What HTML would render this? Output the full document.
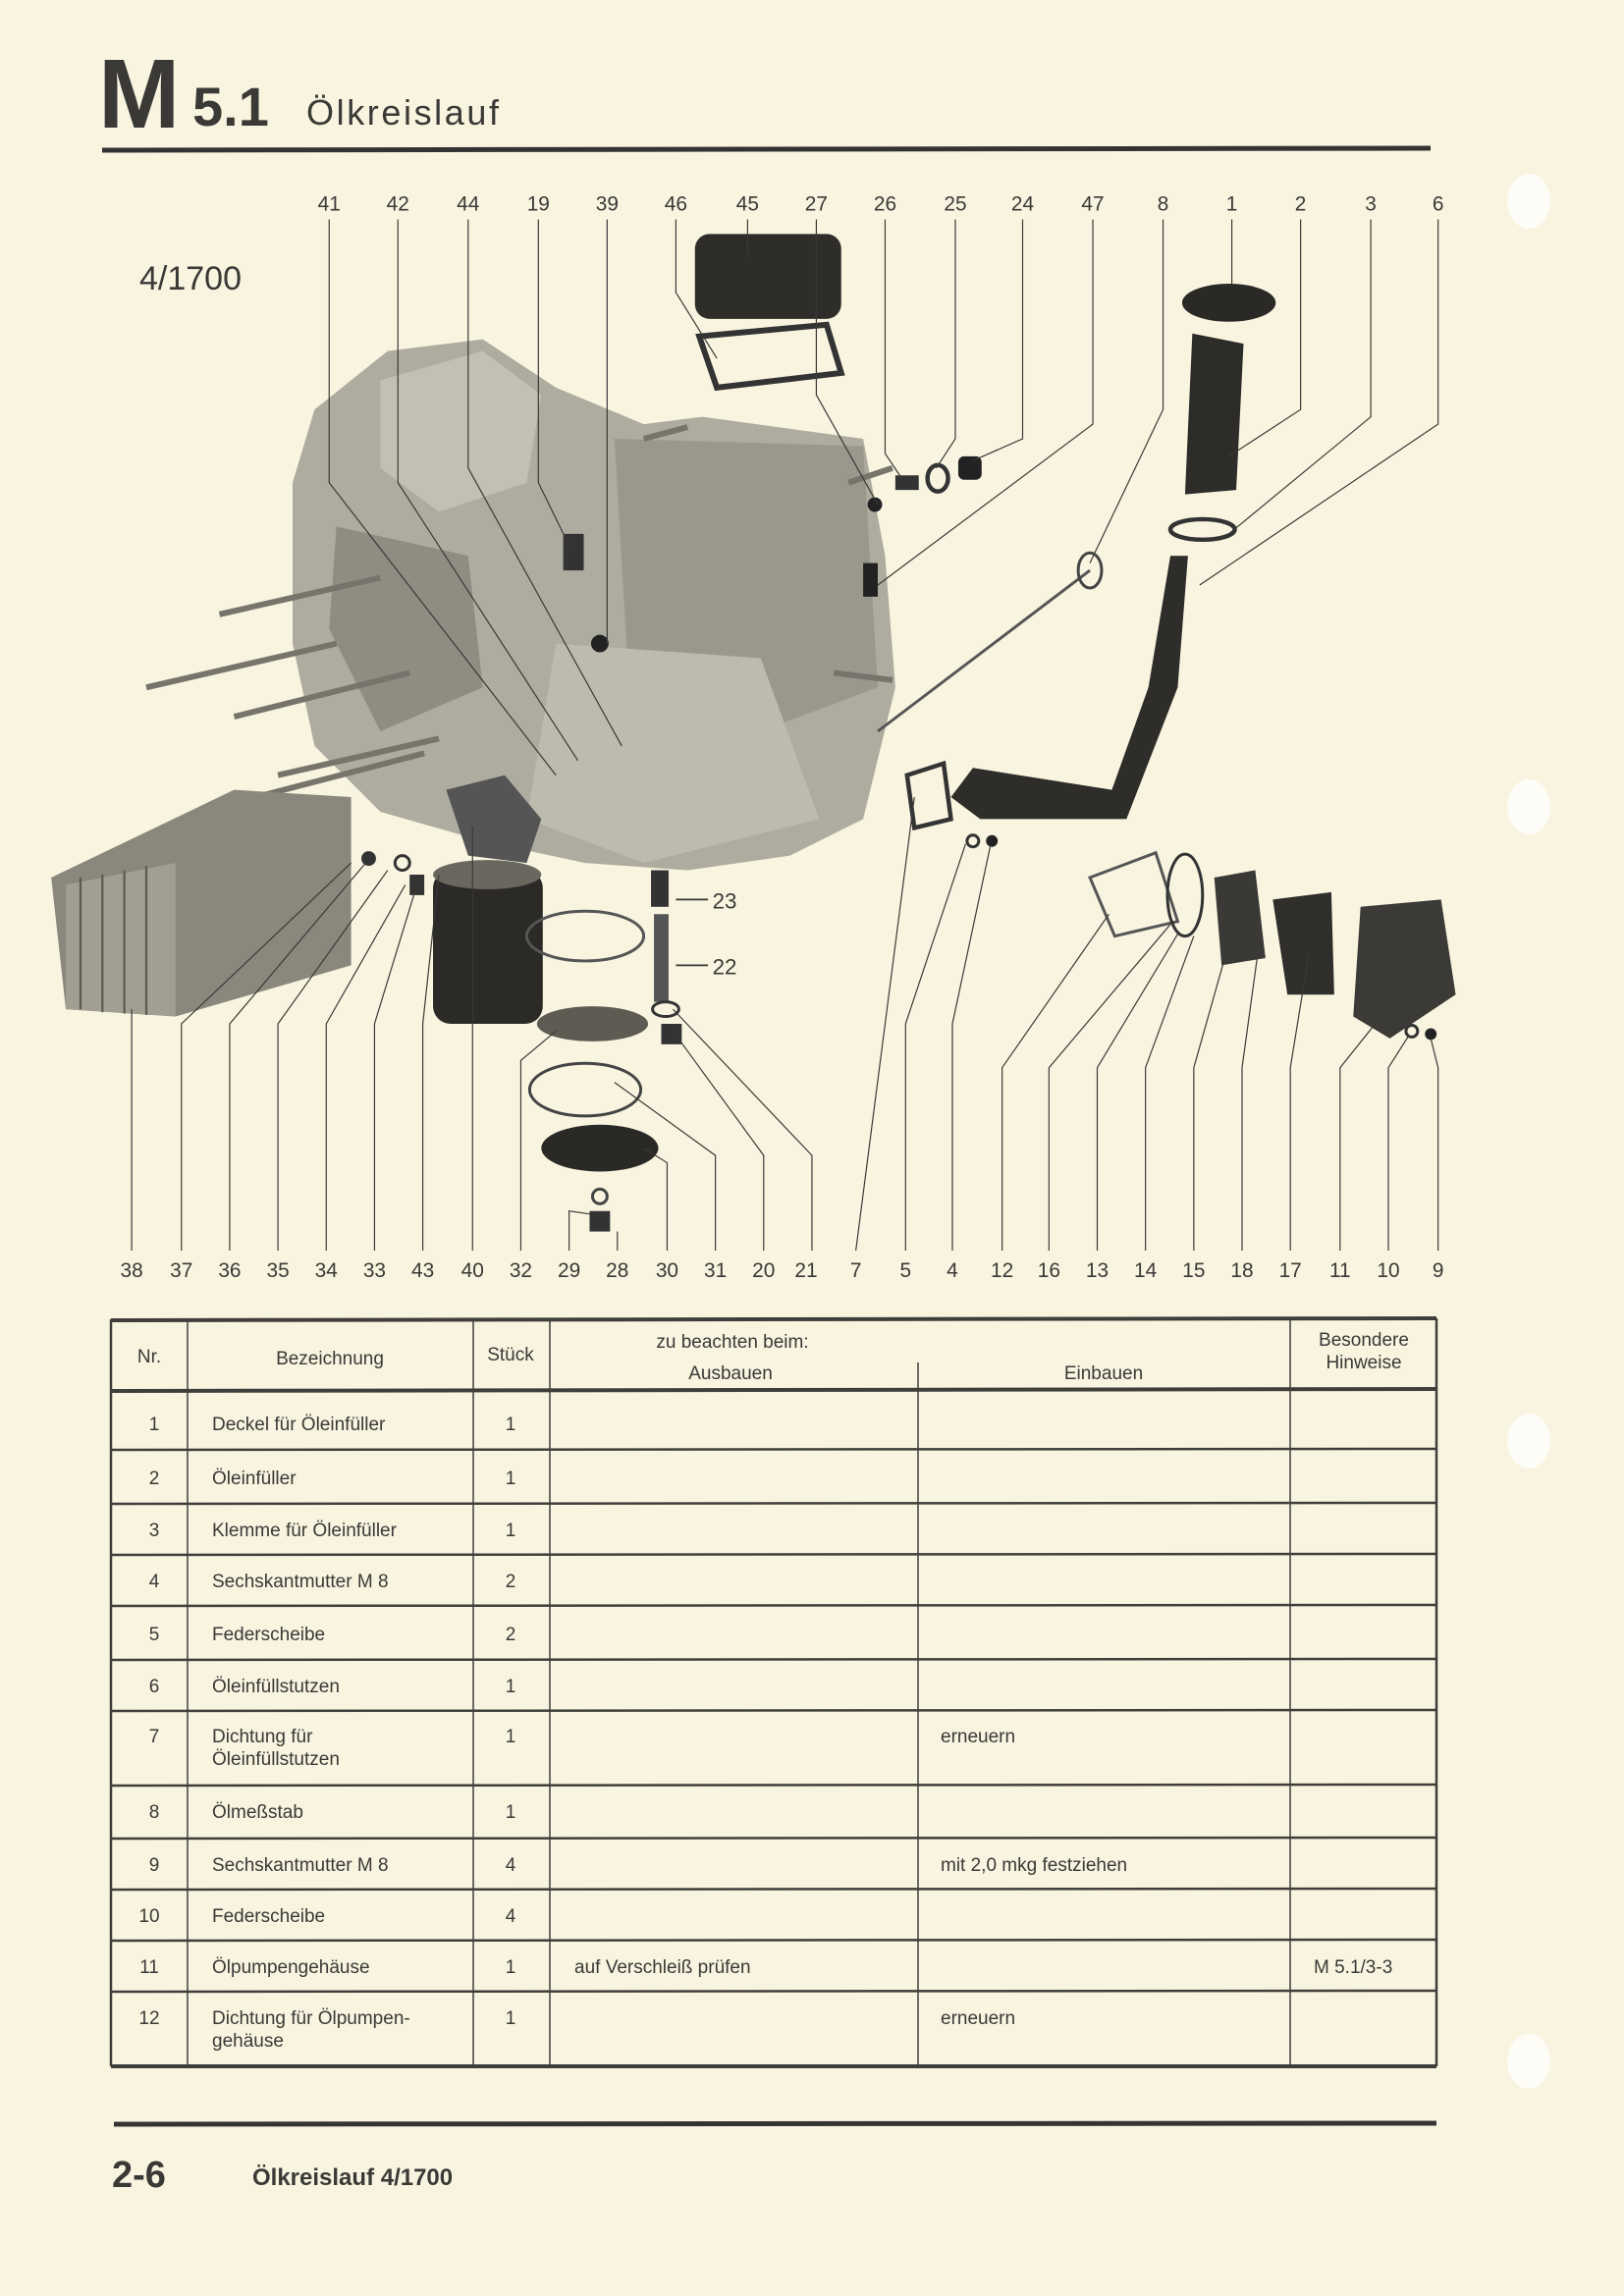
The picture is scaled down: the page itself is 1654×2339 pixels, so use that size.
<!DOCTYPE html>
<html><head><meta charset="utf-8"><style>
html,body{margin:0;padding:0;background:#f8f4e0;}
svg{display:block}
text{font-family:"Liberation Sans",sans-serif;fill:#3a3936}
</style></head><body>
<svg width="1654" height="2339" viewBox="0 0 1654 2339" xmlns="http://www.w3.org/2000/svg">
<rect width="1654" height="2339" fill="#f8f4e0"/>
<!-- binder holes -->
<g fill="#fdfcf6"><ellipse cx="1557" cy="205" rx="22" ry="28"/><ellipse cx="1557" cy="822" rx="22" ry="28"/><ellipse cx="1557" cy="1468" rx="22" ry="28"/><ellipse cx="1557" cy="2100" rx="22" ry="28"/></g>
<!-- header -->
<text x="100" y="130" font-size="100" font-weight="bold" fill="#333">M</text>
<text x="196" y="128" font-size="56" font-weight="bold" fill="#3a3a3a">5.1</text>
<text x="312" y="127" font-size="36" fill="#3a3a3a" textLength="196">Ölkreislauf</text>
<line x1="104" y1="153" x2="1457" y2="151" stroke="#333" stroke-width="5"/>
<text x="142" y="295" font-size="34" fill="#3a3a3a">4/1700</text>

<g transform="scale(1.49)">
<!-- engine block -->
<path d="M200,330 L215,280 L265,240 L330,232 L380,265 L440,290 L480,285 L590,300 L605,380 L612,470 L590,560 L540,585 L470,595 L400,590 L330,575 L260,555 L215,510 L200,440 Z" fill="#aeab9f"/>
<path d="M260,260 L330,240 L370,270 L360,330 L300,350 L260,320Z" fill="#c3c0b3"/>
<path d="M420,300 L590,305 L600,470 L520,500 L430,470Z" fill="#9a978c"/>
<path d="M230,360 L320,380 L330,470 L260,500 L225,430Z" fill="#8f8c82"/>
<path d="M380,440 L520,450 L560,560 L440,590 L360,560Z" fill="#bdbaae"/>
<g stroke="#77746c" stroke-width="4">
<line x1="150" y1="420" x2="260" y2="395"/><line x1="160" y1="490" x2="280" y2="460"/><line x1="100" y1="470" x2="230" y2="440"/><line x1="190" y1="530" x2="300" y2="505"/><line x1="175" y1="545" x2="290" y2="515"/><line x1="440" y1="300" x2="470" y2="292"/><line x1="580" y1="330" x2="610" y2="320"/><line x1="570" y1="460" x2="610" y2="465"/>
</g>
<!-- valve cover 45 & gasket 46 -->
<rect x="475" y="160" width="100" height="58" rx="10" fill="#2e2d2a"/>
<path d="M478,230 L565,222 L575,255 L490,265Z" fill="none" stroke="#333" stroke-width="4"/>
<!-- small parts -->
<circle cx="598" cy="345" r="5" fill="#222"/><rect x="612" y="325" width="16" height="10" fill="#333"/>
<ellipse cx="641" cy="327" rx="7" ry="9" fill="none" stroke="#333" stroke-width="3"/>
<rect x="655" y="312" width="16" height="16" rx="4" fill="#222"/>
<path d="M590,385 L600,385 L600,408 L590,408Z" fill="#222"/>
<circle cx="410" cy="440" r="6" fill="#222"/>
<rect x="385" y="365" width="14" height="25" fill="#333"/>
<!-- cap 1, filler 2, clamp 3, pipe 6 -->
<ellipse cx="840" cy="207" rx="32" ry="13" fill="#2a2926"/>
<path d="M815,228 L850,235 L845,335 L810,338 Z" fill="#2d2c29"/>
<ellipse cx="822" cy="362" rx="22" ry="7" fill="none" stroke="#333" stroke-width="3"/>
<path d="M812,380 L805,470 L770,560 L670,560 L650,545 L665,525 L760,540 L785,470 L800,380Z" fill="#2e2d29"/>
<path d="M620,530 L645,522 L650,560 L625,566Z" fill="none" stroke="#333" stroke-width="3"/>
<line x1="600" y1="500" x2="745" y2="390" stroke="#555" stroke-width="2"/>
<ellipse cx="745" cy="390" rx="8" ry="12" fill="none" stroke="#444" stroke-width="2"/>
<circle cx="665" cy="575" r="4" fill="none" stroke="#333" stroke-width="2"/><circle cx="678" cy="575" r="4" fill="#222"/>
<!-- oil cooler 38 -->
<path d="M35,600 L160,540 L240,545 L240,660 L120,695 L45,690Z" fill="#8a877c"/>
<path d="M45,605 L120,590 L120,695 L45,690Z" fill="#a19e92"/>
<g stroke="#5d5a52" stroke-width="1.5"><line x1="55" y1="600" x2="55" y2="690"/><line x1="70" y1="598" x2="70" y2="692"/><line x1="85" y1="595" x2="85" y2="693"/><line x1="100" y1="592" x2="100" y2="694"/></g>
<circle cx="252" cy="587" r="5" fill="#333"/><circle cx="275" cy="590" r="5" fill="none" stroke="#333" stroke-width="2"/>
<rect x="280" y="598" width="10" height="14" fill="#333"/>
<!-- filter 32, 40 -->
<path d="M305,540 L345,530 L370,560 L360,590 L320,585Z" fill="#555"/>
<rect x="296" y="595" width="75" height="105" rx="12" fill="#2b2a27"/>
<ellipse cx="333" cy="598" rx="37" ry="10" fill="#6a675f"/>
<ellipse cx="400" cy="640" rx="40" ry="17" fill="none" stroke="#555" stroke-width="2"/>
<ellipse cx="405" cy="700" rx="38" ry="12" fill="#5e5b53"/>
<ellipse cx="400" cy="745" rx="38" ry="18" fill="none" stroke="#444" stroke-width="2"/>
<ellipse cx="410" cy="785" rx="40" ry="16" fill="#2a2926"/>
<circle cx="410" cy="818" r="5" fill="none" stroke="#444" stroke-width="2"/><rect x="403" y="828" width="14" height="14" fill="#333"/>
<rect x="445" y="595" width="12" height="25" fill="#333"/>
<rect x="447" y="625" width="10" height="60" fill="#555"/>
<ellipse cx="455" cy="690" rx="9" ry="5" fill="none" stroke="#333" stroke-width="2"/>
<rect x="452" y="700" width="14" height="14" fill="#333"/>
<line x1="462" y1="615" x2="484" y2="615" stroke="#333" stroke-width="1.2"/><text x="487" y="621" font-size="15">23</text>
<line x1="462" y1="660" x2="484" y2="660" stroke="#333" stroke-width="1.2"/><text x="487" y="666" font-size="15">22</text>
<!-- pump parts -->
<path d="M745,600 L790,583 L805,630 L762,640Z" fill="none" stroke="#555" stroke-width="2"/>
<ellipse cx="810" cy="612" rx="12" ry="28" fill="none" stroke="#333" stroke-width="2"/>
<path d="M830,600 L858,595 L865,655 L835,660Z" fill="#3a3935"/>
<path d="M870,615 L910,610 L912,680 L880,680Z" fill="#2f2e2a"/>
<path d="M930,620 L985,615 L995,680 L950,710 L925,695Z" fill="#3b3a36"/>
<circle cx="965" cy="705" r="4" fill="none" stroke="#333" stroke-width="2"/><circle cx="978" cy="707" r="4" fill="#222"/>

<!-- top leaders -->
<g stroke="#3a3936" stroke-width="0.8" fill="none">
<polyline points="225,150 225,330 380,530"/>
<polyline points="272,150 272,330 395,520"/>
<polyline points="320,150 320,320 425,510"/>
<polyline points="368,150 368,330 390,375"/>
<polyline points="415,150 415,440"/>
<polyline points="462,150 462,200 490,245"/>
<polyline points="511,150 511,175"/>
<polyline points="558,150 558,270 600,345"/>
<polyline points="605,150 605,310 615,325"/>
<polyline points="653,150 653,300 640,320"/>
<polyline points="699,150 699,300 665,315"/>
<polyline points="747,150 747,290 600,400"/>
<polyline points="795,150 795,280 745,385"/>
<polyline points="842,150 842,195"/>
<polyline points="889,150 889,280 840,312"/>
<polyline points="937,150 937,285 840,365"/>
<polyline points="983,150 983,290 820,400"/>
<!-- bottom leaders -->
<polyline points="90,855 90,690"/>
<polyline points="124,855 124,700 240,590"/>
<polyline points="157,855 157,700 250,590"/>
<polyline points="190,855 190,700 265,595"/>
<polyline points="223,855 223,700 277,605"/>
<polyline points="256,855 256,700 285,605"/>
<polyline points="289,855 289,700 300,598"/>
<polyline points="323,855 323,565"/>
<polyline points="356,855 356,725 380,705"/>
<polyline points="389,855 389,828 403,830"/>
<polyline points="422,855 422,842"/>
<polyline points="456,855 456,795 440,785"/>
<polyline points="489,855 489,790 420,740"/>
<polyline points="522,855 522,790 460,705"/>
<polyline points="555,855 555,790 460,690"/>
<polyline points="585,855 625,545"/>
<polyline points="619,855 619,700 660,577"/>
<polyline points="651,855 651,700 677,578"/>
<polyline points="685,855 685,730 758,625"/>
<polyline points="717,855 717,730 800,632"/>
<polyline points="750,855 750,730 806,637"/>
<polyline points="783,855 783,730 816,640"/>
<polyline points="816,855 816,730 840,645"/>
<polyline points="849,855 849,730 860,650"/>
<polyline points="882,855 882,730 895,650"/>
<polyline points="916,855 916,730 940,700"/>
<polyline points="949,855 949,730 963,708"/>
<polyline points="983,855 983,730 978,710"/>
</g>
<g font-size="14" text-anchor="middle">
<text x="225" y="144">41</text><text x="272" y="144">42</text><text x="320" y="144">44</text><text x="368" y="144">19</text><text x="415" y="144">39</text><text x="462" y="144">46</text><text x="511" y="144">45</text><text x="558" y="144">27</text><text x="605" y="144">26</text><text x="653" y="144">25</text><text x="699" y="144">24</text><text x="747" y="144">47</text><text x="795" y="144">8</text><text x="842" y="144">1</text><text x="889" y="144">2</text><text x="937" y="144">3</text><text x="983" y="144">6</text>
<text x="90" y="873">38</text><text x="124" y="873">37</text><text x="157" y="873">36</text><text x="190" y="873">35</text><text x="223" y="873">34</text><text x="256" y="873">33</text><text x="289" y="873">43</text><text x="323" y="873">40</text><text x="356" y="873">32</text><text x="389" y="873">29</text><text x="422" y="873">28</text><text x="456" y="873">30</text><text x="489" y="873">31</text><text x="522" y="873">20</text><text x="551" y="873">21</text><text x="585" y="873">7</text><text x="619" y="873">5</text><text x="651" y="873">4</text><text x="685" y="873">12</text><text x="717" y="873">16</text><text x="750" y="873">13</text><text x="783" y="873">14</text><text x="816" y="873">15</text><text x="849" y="873">18</text><text x="882" y="873">17</text><text x="916" y="873">11</text><text x="949" y="873">10</text><text x="983" y="873">9</text>
</g>
</g>

<!-- table -->
<g stroke="#3f3e3a">
<line x1="113" y1="1345" x2="1463" y2="1343" stroke-width="4"/>
<line x1="113" y1="1417" x2="1463" y2="1415" stroke-width="4"/>
<line x1="113" y1="2105" x2="1463" y2="2105" stroke-width="4"/>
<g stroke-width="2.5">
<line x1="113" y1="1477" x2="1463" y2="1476"/><line x1="113" y1="1532" x2="1463" y2="1531"/><line x1="113" y1="1584" x2="1463" y2="1583"/><line x1="113" y1="1636" x2="1463" y2="1635"/><line x1="113" y1="1691" x2="1463" y2="1690"/><line x1="113" y1="1743" x2="1463" y2="1742"/><line x1="113" y1="1819" x2="1463" y2="1818"/><line x1="113" y1="1873" x2="1463" y2="1872"/><line x1="113" y1="1925" x2="1463" y2="1924"/><line x1="113" y1="1977" x2="1463" y2="1976"/><line x1="113" y1="2029" x2="1463" y2="2028"/>
</g>
<g stroke-width="1.5">
<line x1="113" y1="1344" x2="113" y2="2105" stroke-width="2.5"/><line x1="191" y1="1344" x2="191" y2="2105"/><line x1="482" y1="1344" x2="482" y2="2105"/><line x1="560" y1="1344" x2="560" y2="2105"/><line x1="935" y1="1388" x2="935" y2="2105"/><line x1="1314" y1="1344" x2="1314" y2="2105"/><line x1="1463" y1="1343" x2="1463" y2="2105" stroke-width="2.5"/>
</g>
</g>
<g font-size="19">
<text x="152" y="1388" text-anchor="middle">Nr.</text>
<text x="336" y="1390" text-anchor="middle">Bezeichnung</text>
<text x="520" y="1386" text-anchor="middle">Stück</text>
<text x="746" y="1373" text-anchor="middle">zu beachten beim:</text>
<text x="744" y="1405" text-anchor="middle">Ausbauen</text>
<text x="1124" y="1405" text-anchor="middle">Einbauen</text>
<text x="1389" y="1371" text-anchor="middle">Besondere</text>
<text x="1389" y="1394" text-anchor="middle">Hinweise</text>
</g>
<g font-size="19">
<g text-anchor="middle">
<text x="157" y="1457">1</text><text x="157" y="1512">2</text><text x="157" y="1565">3</text><text x="157" y="1617">4</text><text x="157" y="1671">5</text><text x="157" y="1724">6</text><text x="157" y="1775">7</text><text x="157" y="1852">8</text><text x="157" y="1906">9</text><text x="152" y="1958">10</text><text x="152" y="2010">11</text><text x="152" y="2062">12</text>
<text x="520" y="1457">1</text><text x="520" y="1512">1</text><text x="520" y="1565">1</text><text x="520" y="1617">2</text><text x="520" y="1671">2</text><text x="520" y="1724">1</text><text x="520" y="1775">1</text><text x="520" y="1852">1</text><text x="520" y="1906">4</text><text x="520" y="1958">4</text><text x="520" y="2010">1</text><text x="520" y="2062">1</text>
</g>
<text x="216" y="1457">Deckel für Öleinfüller</text>
<text x="216" y="1512">Öleinfüller</text>
<text x="216" y="1565">Klemme für Öleinfüller</text>
<text x="216" y="1617">Sechskantmutter M 8</text>
<text x="216" y="1671">Federscheibe</text>
<text x="216" y="1724">Öleinfüllstutzen</text>
<text x="216" y="1775">Dichtung für</text>
<text x="216" y="1798">Öleinfüllstutzen</text>
<text x="216" y="1852">Ölmeßstab</text>
<text x="216" y="1906">Sechskantmutter M 8</text>
<text x="216" y="1958">Federscheibe</text>
<text x="216" y="2010">Ölpumpengehäuse</text>
<text x="216" y="2062">Dichtung für Ölpumpen-</text>
<text x="216" y="2085">gehäuse</text>
<text x="958" y="1775">erneuern</text>
<text x="958" y="1906">mit 2,0 mkg festziehen</text>
<text x="585" y="2010">auf Verschleiß prüfen</text>
<text x="958" y="2062">erneuern</text>
<text x="1338" y="2010">M 5.1/3-3</text>
</g>
<!-- footer -->
<line x1="116" y1="2164" x2="1463" y2="2163" stroke="#333" stroke-width="5"/>
<text x="114" y="2228" font-size="38" font-weight="bold" fill="#333">2-6</text>
<text x="257" y="2226" font-size="24" font-weight="bold" fill="#333">Ölkreislauf 4/1700</text>
</svg>
</body></html>
